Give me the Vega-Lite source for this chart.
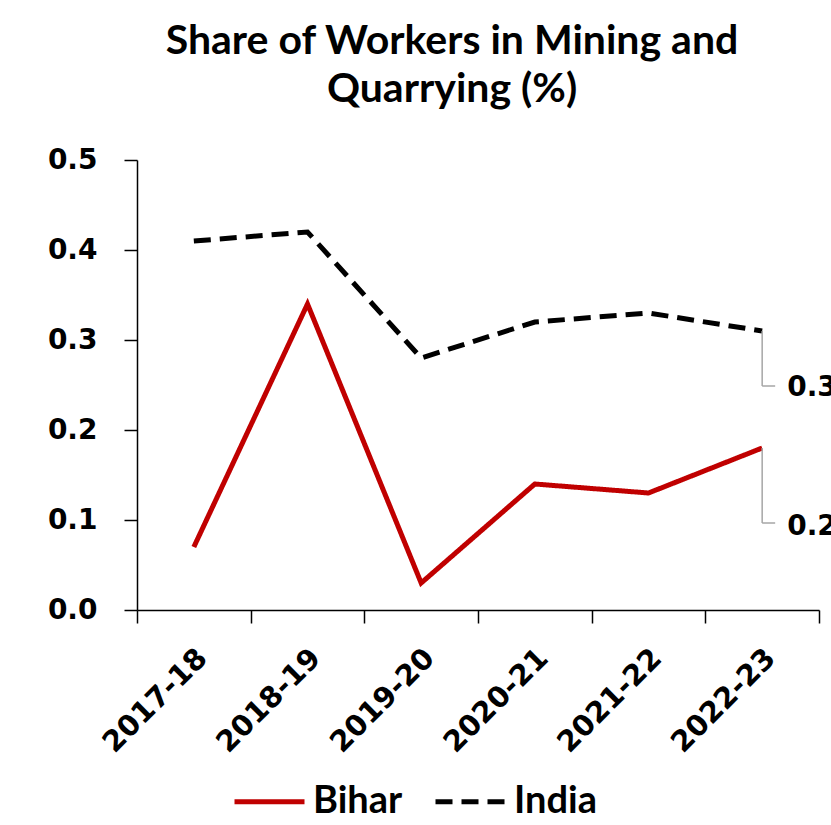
{
  "$schema": "https://vega.github.io/schema/vega-lite/v6.json",
  "width": 682,
  "height": 450,
  "autosize": {"type": "none"},
  "padding": {"left": 137, "top": 160, "right": 12, "bottom": 215},
  "background": "white",
  "config": {
    "view": {"stroke": null},
    "legend": {
      "orient": "none",
      "legendX": 95,
      "legendY": 604,
      "direction": "horizontal",
      "title": null,
      "labelFont": "Lato",
      "labelFontSize": 38,
      "labelFontWeight": "bold",
      "labelColor": "black",
      "labelOffset": 6,
      "symbolType": "stroke",
      "symbolSize": 4900,
      "symbolStrokeWidth": 5,
      "columnPadding": 22,
      "labelLimit": 300
    }
  },
  "title": {
    "text": ["Share of Workers in Mining and", "Quarrying (%)"],
    "font": "Lato",
    "fontSize": 41,
    "fontWeight": "bold",
    "color": "black",
    "anchor": "middle",
    "dx": -26,
    "offset": 35,
    "lineHeight": 48
  },
  "data": {
    "values": [
      {"year": "2017-18", "series": "Bihar", "value": 0.07},
      {"year": "2018-19", "series": "Bihar", "value": 0.34},
      {"year": "2019-20", "series": "Bihar", "value": 0.03},
      {"year": "2020-21", "series": "Bihar", "value": 0.14},
      {"year": "2021-22", "series": "Bihar", "value": 0.13},
      {"year": "2022-23", "series": "Bihar", "value": 0.18},
      {"year": "2017-18", "series": "India", "value": 0.41},
      {"year": "2018-19", "series": "India", "value": 0.42},
      {"year": "2019-20", "series": "India", "value": 0.28},
      {"year": "2020-21", "series": "India", "value": 0.32},
      {"year": "2021-22", "series": "India", "value": 0.33},
      {"year": "2022-23", "series": "India", "value": 0.31}
    ]
  },
  "encoding": {
    "x": {
      "field": "year",
      "type": "nominal",
      "bandPosition": 0.5,
      "scale": {"type": "band", "paddingInner": 0, "paddingOuter": 0},
      "axis": {
        "title": null,
        "grid": false,
        "labelAngle": -45,
        "labelAlign": "right",
        "labelBaseline": "middle",
        "labelFont": "DejaVu Sans",
        "labelFontSize": 29,
        "labelFontWeight": "bold",
        "labelColor": "black",
        "tickBand": "extent",
        "tickSize": 13,
        "tickColor": "black",
        "tickWidth": 1.5,
        "domainColor": "black",
        "domainWidth": 1.5,
        "labelPadding": 30,
        "labelOffset": 8
      }
    },
    "y": {
      "field": "value",
      "type": "quantitative",
      "scale": {"domain": [0, 0.5], "nice": false},
      "axis": {
        "title": null,
        "grid": false,
        "values": [0, 0.1, 0.2, 0.3, 0.4, 0.5],
        "format": ".1f",
        "labelFont": "DejaVu Sans",
        "labelFontSize": 28,
        "labelFontWeight": "bold",
        "labelColor": "black",
        "tickSize": 13,
        "tickColor": "black",
        "tickWidth": 1.5,
        "domainColor": "black",
        "domainWidth": 1.5,
        "labelPadding": 27
      }
    }
  },
  "layer": [
    {
      "mark": {"type": "line", "strokeWidth": 5},
      "encoding": {
        "color": {
          "field": "series",
          "type": "nominal",
          "scale": {"domain": ["Bihar", "India"], "range": ["#C00000", "#000000"]}
        },
        "strokeDash": {
          "field": "series",
          "type": "nominal",
          "scale": {"domain": ["Bihar", "India"], "range": [[1, 0], [17, 9]]}
        }
      }
    },
    {
      "transform": [{"filter": "datum.series === 'India' && datum.year === '2022-23'"}],
      "layer": [
        {
          "mark": {"type": "rule", "color": "#A6A6A6", "strokeWidth": 1.5, "y2Offset": 55},
          "encoding": {"y2": {"field": "value"}}
        },
        {
          "mark": {"type": "rule", "color": "#A6A6A6", "strokeWidth": 1.5, "yOffset": 55, "x2Offset": 13},
          "encoding": {"x2": {"field": "year", "bandPosition": 0.5}}
        },
        {
          "mark": {"type": "text", "dx": 25, "dy": 57, "align": "left", "baseline": "middle", "font": "DejaVu Sans", "fontSize": 28, "fontWeight": "bold", "color": "black"},
          "encoding": {"text": {"field": "value", "type": "quantitative", "format": ".1f"}}
        }
      ]
    },
    {
      "transform": [{"filter": "datum.series === 'Bihar' && datum.year === '2022-23'"}],
      "layer": [
        {
          "mark": {"type": "rule", "color": "#A6A6A6", "strokeWidth": 1.5, "y2Offset": 75},
          "encoding": {"y2": {"field": "value"}}
        },
        {
          "mark": {"type": "rule", "color": "#A6A6A6", "strokeWidth": 1.5, "yOffset": 75, "x2Offset": 13},
          "encoding": {"x2": {"field": "year", "bandPosition": 0.5}}
        },
        {
          "mark": {"type": "text", "dx": 25, "dy": 79, "align": "left", "baseline": "middle", "font": "DejaVu Sans", "fontSize": 28, "fontWeight": "bold", "color": "black"},
          "encoding": {"text": {"field": "value", "type": "quantitative", "format": ".1f"}}
        }
      ]
    }
  ]
}
